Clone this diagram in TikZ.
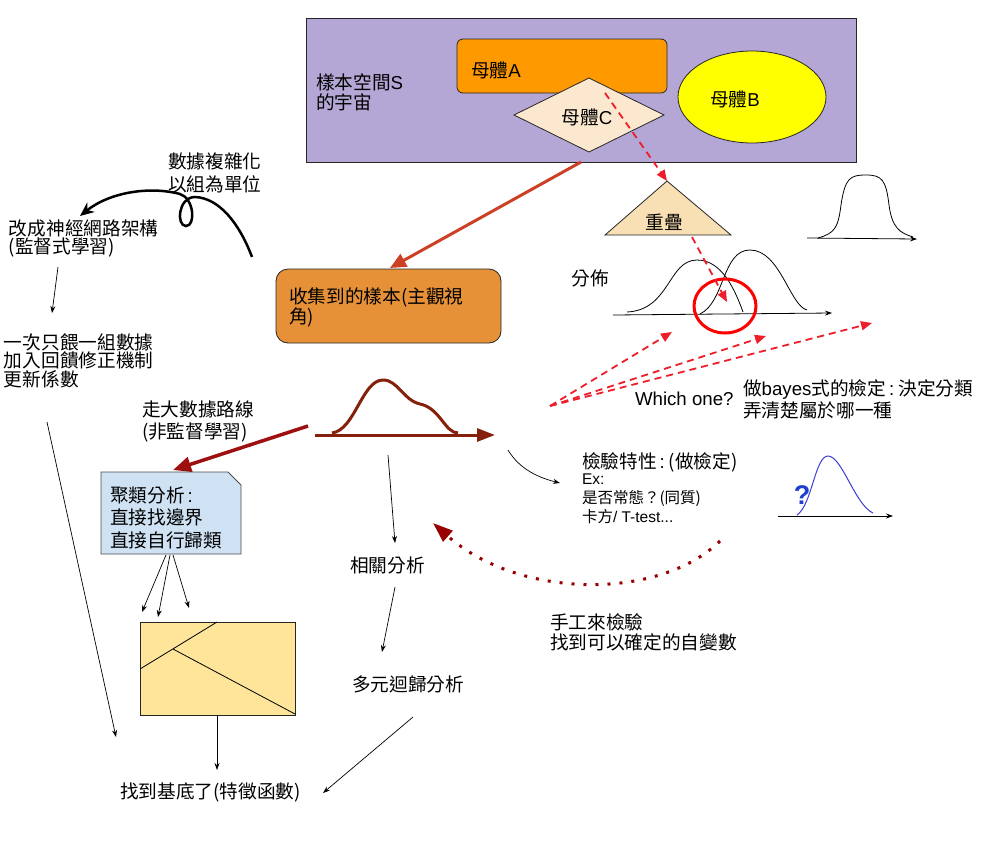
\documentclass[tikz,border=0pt]{standalone}
\usepackage{fontspec}
\setmainfont{Noto Sans CJK TC}
\newfontfamily\lat{Liberation Sans}
\usetikzlibrary{arrows.meta,shapes.geometric}

\definecolor{univfill}{HTML}{B4A7D6}
\definecolor{popAfill}{HTML}{FF9900}
\definecolor{popBfill}{HTML}{FFFF00}
\definecolor{popCfill}{HTML}{FCE8CF}
\definecolor{overlapfill}{HTML}{F9E0B4}
\definecolor{collectfill}{HTML}{E69138}
\definecolor{clusterfill}{HTML}{CFE2F3}
\definecolor{partfill}{HTML}{FFE599}
\definecolor{rust}{HTML}{CC4125}
\definecolor{deepred}{HTML}{9E1010}
\definecolor{curvebrown}{HTML}{85200C}
\definecolor{dashred}{HTML}{EE1D2A}
\definecolor{dotred}{HTML}{990000}
\definecolor{bellblue}{HTML}{3D3DD6}
\definecolor{qblue}{HTML}{1F3FD0}

% a narrow colon with a little room on both sides
\newcommand{\narrowcolon}{\kern3pt{\lat :}\kern4pt}

\tikzset{
  every node/.style={inner sep=0pt, outer sep=0pt},
  txt/.style={font=\fontsize{18.67}{#1}\selectfont, align=left, anchor=west},
  txt/.default=21,
  smalltxt/.style={font=\fontsize{15.5}{19}\selectfont, align=left, anchor=west},
  shapeline/.style={draw=black!85, line width=0.8pt},
  thinarrow/.style={draw=black, line width=0.7pt, -{Stealth[length=7pt,width=5pt]}},
  axisarrow/.style={draw=black, line width=0.8pt, -{Stealth[length=7pt,width=5pt]}},
  bell/.style={draw=black, line width=0.8pt},
  redarrow/.style={draw=rust, line width=3pt, -{Triangle[length=16pt,width=14pt]}},
  darkarrow/.style={draw=deepred, line width=3.5pt, -{Triangle[length=18pt,width=15pt]}},
  brownaxis/.style={draw=curvebrown, line width=3pt, -{Triangle[length=18pt,width=13pt]}},
  dasharrow/.style={draw=dashred, line width=1.8pt, dash pattern=on 7pt off 5pt,
                    -{Triangle[length=11pt,width=9pt]}},
  dotarrow/.style={draw=dotred, line width=3pt, dash pattern=on 3pt off 9pt,
                   -{Triangle[length=20pt,width=14pt]}},
  looparrow/.style={draw=black, line width=2.5pt, -{Stealth[length=14pt,width=12pt]}},
}

\begin{document}
\begin{tikzpicture}[x=1pt,y=-1pt]
\useasboundingbox (0,0) rectangle (1000,852);
\fill[white] (0,0) rectangle (1000,852);

% ---------- sample space with the three populations ----------
\node[shapeline, fill=univfill, minimum width=550pt, minimum height=144pt] (universe) at (581,90) {};
\node[txt=20] (univlabel) at (316,92) {樣本空間{\lat S}\\的宇宙};
\node[shapeline, fill=popAfill, rounded corners=6pt, minimum width=210pt, minimum height=54pt] (popA) at (562,66) {};
\node[txt] (popAlabel) at (471,70) {母體{\lat A}};
\node[shapeline, ellipse, fill=popBfill, minimum width=148pt, minimum height=92pt] (popB) at (752,97) {};
\node[txt, anchor=center] (popBlabel) at (735,99) {母體{\lat B}};
\node[shapeline, diamond, aspect=2, fill=popCfill, minimum width=150pt, minimum height=74pt] (popC) at (589,115) {};
\node[txt, anchor=center] (popClabel) at (587,117) {母體{\lat C}};

% ---------- overlap triangle ----------
\coordinate (overlaptop) at (667,181);
\draw[shapeline, fill=overlapfill] (overlaptop) -- (731,235) -- (605,235) -- cycle;
\node[txt, anchor=center] (overlaplabel) at (664,222) {重疊};

% ---------- collected sample ----------
\node[shapeline, fill=collectfill, rounded corners=12pt, minimum width=225pt, minimum height=74pt] (collect) at (388.5,306) {};
\node[txt=20] (collectlabel) at (289,307) {收集到的樣本(主觀視\\角)};
\coordinate (univout) at (581,162);
\coordinate (collectin) at (390,268);
\draw[redarrow] (univout) -- (collectin);

% ---------- dashed path through the overlap ----------
\coordinate (popAout) at (605,93);
\coordinate (overlapout) at (692,237);
\coordinate (focuspt) at (727,302);

% ---------- single distribution (top right) ----------
\coordinate (ax1a) at (807,238);
\coordinate (ax1b) at (917,239);
\draw[axisarrow] (ax1a) -- (ax1b);
\draw[bell] (818,238) .. controls (835,233) and (838,228) .. (841,205)
  .. controls (845,178) and (850,175) .. (866,175)
  .. controls (882,175) and (886,180) .. (889,205)
  .. controls (892,228) and (900,233) .. (913,237);

% ---------- two overlapping distributions ----------
\node[txt, anchor=center] (distlabel) at (590,278) {分佈};
\coordinate (ax2a) at (613,315);
\coordinate (ax2b) at (832,313);
\draw[axisarrow] (ax2a) -- (ax2b);
\draw[bell] (627,312) .. controls (670,310) and (668,260) .. (697,260)
  .. controls (722,260) and (735,290) .. (743,312);
\draw[bell] (700,314) .. controls (725,302) and (722,250) .. (750,250)
  .. controls (780,250) and (790,306) .. (807,310);
\node[ellipse, draw=red, line width=3pt, minimum width=62pt, minimum height=54pt] (focus) at (725,306) {};

\draw[dasharrow] (popAout) -- (overlaptop);
\draw[dasharrow] (overlapout) -- (focuspt);

% ---------- which one ----------
\coordinate (fan) at (550,406);
\coordinate (fan1) at (672,332);
\coordinate (fan2) at (766,336);
\coordinate (fan3) at (872,323);
\draw[dasharrow] (fan) -- (fan1);
\draw[dasharrow] (fan) -- (fan2);
\draw[dasharrow] (fan) -- (fan3);
\node[txt] (whichone) at (635,399) {\lat Which one?};
\node[txt=22] (bayes) at (743,399) {做{\lat bayes}式的檢定\narrowcolon 決定分類\\弄清楚屬於哪一種};

% ---------- left column: neural network route ----------
\node[txt=23] (complex) at (168,173) {數據複雜化\\以組為單位};
\coordinate (loopstart) at (252,257);
\coordinate (loopend) at (80,216);
\draw[looparrow] (loopstart) .. controls (240,225) and (220,198) .. (195,197)
  .. controls (178,197) and (176,226) .. (186,226)
  .. controls (196,226) and (194,198) .. (180,194)
  .. controls (150,186) and (110,192) .. (loopend);
\node[txt=17] (nn) at (9,238.5) {改成神經網路架構\\(監督式學習)};
\node[txt=18.5] (feed) at (4,360.5) {一次只餵一組數據\\加入回饋修正機制\\更新係數};
\coordinate (nnout) at (58,267);
\coordinate (feedin) at (52,313);
\draw[thinarrow] (nnout) -- (feedin);
\coordinate (feedout) at (47,422);
\coordinate (basisleft) at (116,737);
\draw[thinarrow] (feedout) -- (basisleft);

% ---------- sample distribution and big-data route ----------
\coordinate (ax3a) at (315,435);
\coordinate (ax3b) at (495,435);
\draw[brownaxis] (ax3a) -- (ax3b);
\draw[draw=curvebrown, line width=3pt] (332,433) .. controls (355,430) and (362,380) .. (383,380)
  .. controls (398,380) and (403,400) .. (420,404)
  .. controls (440,408) and (445,433) .. (458,433);
\node[txt=22] (bigdata) at (142,421) {走大數據路線\\(非監督學習)};
\coordinate (bigout) at (308,426);
\coordinate (clusterin) at (173,470);
\draw[darkarrow] (bigout) -- (clusterin);

% ---------- clustering ----------
\draw[shapeline, draw=black!70, fill=clusterfill] (101,472) -- (228,472) -- (241,485) -- (241,554) -- (101,554) -- cycle;
\node[txt=22.5] (clusterlabel) at (110,517.5) {聚類分析\narrowcolon\\直接找邊界\\直接自行歸類};
\node[shapeline, fill=partfill, minimum width=155pt, minimum height=93pt] (parts) at (217.5,668.5) {};
\draw[black, line width=0.8pt] (140,669) -- (217,622);
\draw[black, line width=0.8pt] (173,649) -- (295,714);
\coordinate (c1) at (166,555);
\coordinate (c2) at (170,555);
\coordinate (c3) at (173,555);
\coordinate (p1) at (142,612);
\coordinate (p2) at (158,617);
\coordinate (p3) at (189,608);
\draw[thinarrow] (c1) -- (p1);
\draw[thinarrow] (c2) -- (p2);
\draw[thinarrow] (c3) -- (p3);
\coordinate (partsout) at (217,715);
\coordinate (basistop) at (217,770);
\draw[thinarrow] (partsout) -- (basistop);
\node[txt] (basis) at (120,792) {找到基底了(特徵函數)};

% ---------- correlation and regression ----------
\coordinate (distdown) at (388,455);
\coordinate (corrin) at (395,543);
\draw[thinarrow] (distdown) -- (corrin);
\node[txt] (corr) at (350,565) {相關分析};
\coordinate (corrout) at (395,587);
\coordinate (regin) at (382,652);
\draw[thinarrow] (corrout) -- (regin);
\node[txt] (multireg) at (352,684) {多元迴歸分析};
\coordinate (regout) at (413,717);
\coordinate (basisright) at (323,793);
\draw[thinarrow] (regout) -- (basisright);

% ---------- hypothesis testing ----------
\coordinate (testfrom) at (508,450);
\coordinate (testto) at (560,483);
\draw[thinarrow] (testfrom) .. controls (520,470) and (540,478) .. (testto);
\node[txt] (testhead) at (582,462) {檢驗特性\narrowcolon(做檢定)};
\node[smalltxt] (testbody) at (582,499) {{\lat Ex:}\\是否常態？(同質)\\卡方{\lat / T-test...}};

\coordinate (ax4a) at (778,516);
\coordinate (ax4b) at (893,516);
\draw[axisarrow] (ax4a) -- (ax4b);
\draw[draw=bellblue, line width=1pt] (797,515) .. controls (812,505) and (815,456) .. (828,456)
  .. controls (842,456) and (855,505) .. (873,513);
\node[font=\lat\bfseries\fontsize{27}{27}\selectfont, text=qblue] (qmark) at (802,495) {?};

\coordinate (manualfrom) at (720,541);
\coordinate (manualto) at (433,523);
\draw[dotarrow] (manualfrom) .. controls (660,600) and (520,600) .. (manualto);
\node[txt=20] (manual) at (550,632) {手工來檢驗\\找到可以確定的自變數};

\end{tikzpicture}
\end{document}
